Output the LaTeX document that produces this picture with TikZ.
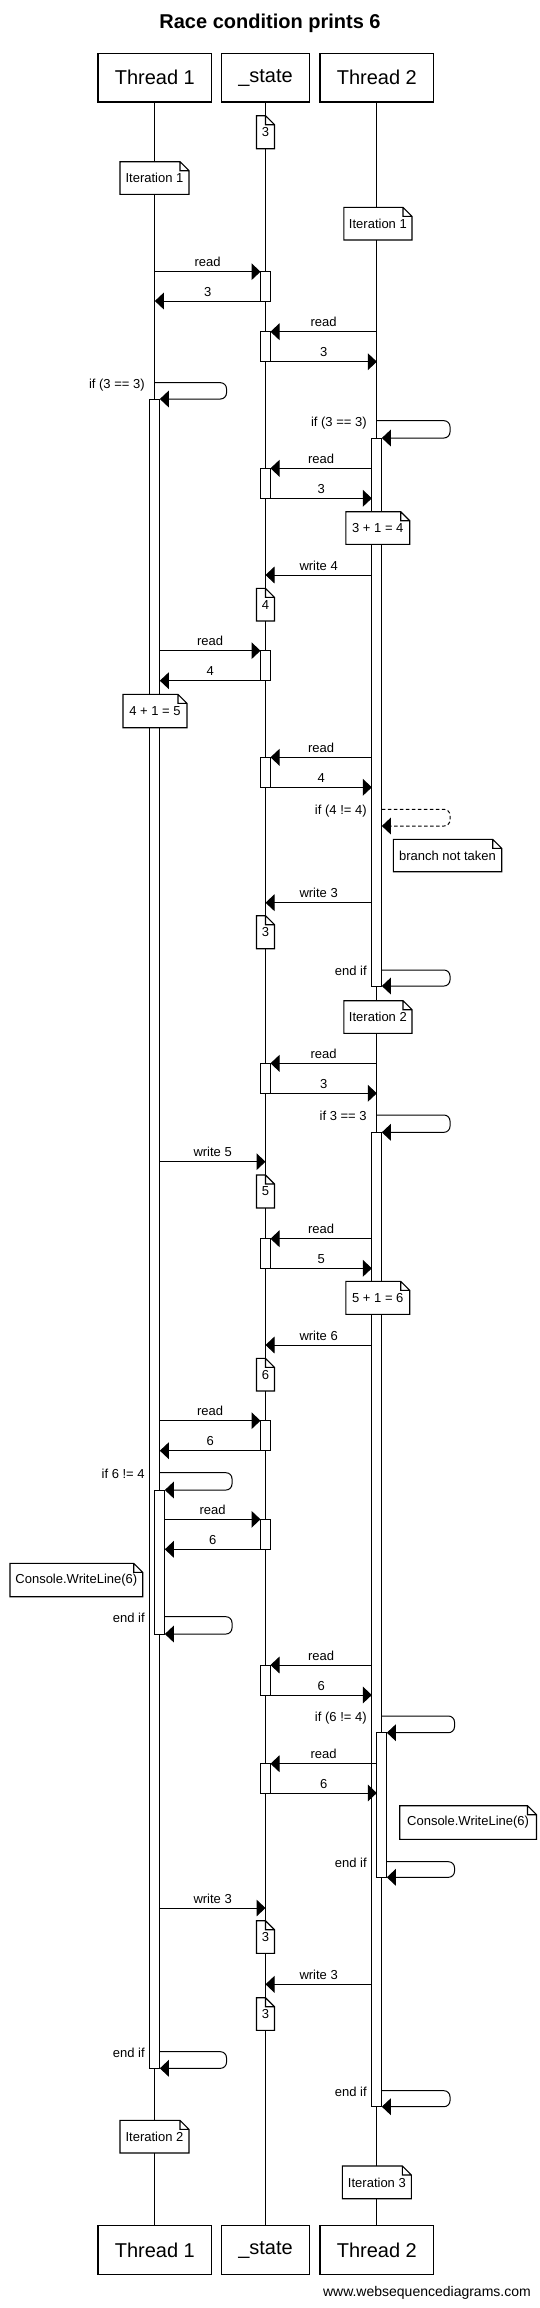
\documentclass[tikz,border=0pt]{standalone}
\usepackage{fontspec}
\setmainfont{Liberation Sans}
\usetikzlibrary{arrows.meta}
\newcommand\actbox[4]{\node[actstyle, minimum height={(#4)-(#3)}] (#1) at (#2,{((#3)+(#4))/2}) {};}
\newcommand\notebox[6]{%
  \node[notebody, minimum width={(#4)-(#2)}, minimum height={(#5)-(#3)}] (#1) at ({((#2)+(#4))/2},{((#3)+(#5))/2}) {#6};
  \draw[noteline] (#1.north west) -- ([xshift=-9pt]#1.north east) -- ([yshift=-9pt]#1.north east) -- (#1.south east) -- (#1.south west) -- cycle
    ([xshift=-9pt]#1.north east) |- ([yshift=-9pt]#1.north east);}
\begin{document}
\begin{tikzpicture}[x=1pt,y=-1pt,
  hdr/.style={draw, line width=1.1pt, minimum height=48.7pt, inner sep=0pt, font=\fontsize{20}{24}\selectfont},
  lifeline/.style={line width=1pt},
  actstyle/.style={draw, fill=white, line width=1pt, minimum width=10pt, inner sep=0pt, outer sep=0pt},
  msgarrow/.style={line width=1pt, -{Triangle[length=9pt,width=16.7pt]}},
  lbl/.style={font=\fontsize{13}{15}\selectfont, inner sep=0pt, text depth=0pt, above=4.5pt},
  slbl/.style={font=\fontsize{13}{15}\selectfont, inner sep=0pt, anchor=base east},
  notebody/.style={fill=white, inner sep=0pt, outer sep=0pt, font=\fontsize{13}{15}\selectfont},
  noteline/.style={line width=1.1pt, line join=miter},
  loopstyle/.style={msgarrow, rounded corners=6pt},
]
\useasboundingbox (0,0) rectangle (540,2308);

% title
\node[font=\bfseries\fontsize{20}{24}\selectfont] (title) at (270,23) {Race condition prints 6};

% headers
\node[hdr, minimum width=113.7pt] (h1) at (154.85,77.65) {Thread 1};
\node[hdr, minimum width=88.3pt] (hs) at (265.5,77.65) {\_state};
\node[hdr, minimum width=113.7pt] (h2) at (376.85,77.65) {Thread 2};
\node[hdr, minimum width=113.7pt] (f1) at (154.85,2250) {Thread 1};
\node[hdr, minimum width=88.3pt] (fs) at (265.5,2250) {\_state};
\node[hdr, minimum width=113.7pt] (f2) at (376.85,2250) {Thread 2};

% lifelines
\draw[lifeline] (h1.south) -- (f1.north);
\draw[lifeline] (hs.south) -- (fs.north);
\draw[lifeline] (h2.south) -- (f2.north);

% activations
\actbox{A1}{154.85}{399}{2068.3}
\actbox{A1n}{159.85}{1490}{1634}
\actbox{B1}{376.85}{438}{986}
\actbox{B2}{376.85}{1132.3}{2106.7}
\actbox{B2n}{381.85}{1732.7}{1877.3}
\actbox{S1}{265.5}{271.7}{301}
\actbox{S2}{265.5}{331.7}{361.7}
\actbox{S3}{265.5}{468.3}{498.3}
\actbox{S4}{265.5}{650.7}{680.7}
\actbox{S5}{265.5}{757.3}{787.3}
\actbox{S6}{265.5}{1063.3}{1093.3}
\actbox{S7}{265.5}{1238.7}{1268.3}
\actbox{S8}{265.5}{1420.7}{1450.7}
\actbox{S9}{265.5}{1519.3}{1549.3}
\actbox{S10}{265.5}{1665}{1695}
\actbox{S11}{265.5}{1763.7}{1793}

% coordinates for loops and writes
\coordinate (L1) at (154.85,382.7);
\coordinate (L2) at (376.85,420.7);
\coordinate (L3) at (381.85,809.3);
\coordinate (L4) at (381.85,970);
\coordinate (L5) at (376.85,1115);
\coordinate (L6) at (159.85,1472.7);
\coordinate (L7) at (164.85,1616.7);
\coordinate (L8) at (381.85,1716);
\coordinate (L9) at (386.85,1861.7);
\coordinate (L10) at (159.85,2051.7);
\coordinate (L11) at (381.85,2090.7);
\coordinate (W1) at (0,575);
\coordinate (W2) at (0,902.7);
\coordinate (W3) at (0,1161.7);
\coordinate (W4) at (0,1345);
\coordinate (W5) at (0,1908);
\coordinate (W6) at (0,1984.3);

% messages
\draw[msgarrow] (h1 |- S1.north west) -- node[lbl]{read} (S1.north west);
\draw[msgarrow] (S1.south west) -- node[lbl]{3} (h1 |- S1.south west);
\draw[msgarrow] (h2 |- S2.north east) -- node[lbl]{read} (S2.north east);
\draw[msgarrow] (S2.south east) -- node[lbl]{3} (h2 |- S2.south east);

\draw[loopstyle] (L1) -- ++(71.65,0) |- (A1.north east);
\node[slbl] (c1) at (144.85,388) {if (3 == 3)};
\draw[loopstyle] (L2) -- ++(73.15,0) |- (B1.north east);
\node[slbl] (c2) at (366.85,426) {if (3 == 3)};

\draw[msgarrow] (B1.west |- S3.north east) -- node[lbl]{read} (S3.north east);
\draw[msgarrow] (S3.south east) -- node[lbl]{3} (B1.west |- S3.south east);
\draw[msgarrow] (B1.west |- W1) -- node[lbl]{write 4} (hs |- W1);
\draw[msgarrow] (A1.east |- S4.north west) -- node[lbl]{read} (S4.north west);
\draw[msgarrow] (S4.south west) -- node[lbl]{4} (A1.east |- S4.south west);
\draw[msgarrow] (B1.west |- S5.north east) -- node[lbl]{read} (S5.north east);
\draw[msgarrow] (S5.south east) -- node[lbl]{4} (B1.west |- S5.south east);

\draw[loopstyle, dash pattern=on 3.5pt off 2.5pt] (L3) -- ++(68.15,0) -- ++(0,16.7) -- ++(-68.15,0);
\node[slbl] (c3) at (366.85,814.8) {if (4 != 4)};

\draw[msgarrow] (B1.west |- W2) -- node[lbl]{write 3} (hs |- W2);
\draw[loopstyle] (L4) -- ++(68.15,0) |- (B1.south east);
\node[slbl] (c4) at (366.85,975.5) {end if};

\draw[msgarrow] (h2 |- S6.north east) -- node[lbl]{read} (S6.north east);
\draw[msgarrow] (S6.south east) -- node[lbl]{3} (h2 |- S6.south east);
\draw[loopstyle] (L5) -- ++(73.15,0) |- (B2.north east);
\node[slbl] (c5) at (366.85,1120.5) {if 3 == 3};

\draw[msgarrow] (A1.east |- W3) -- node[lbl]{write 5} (hs |- W3);
\draw[msgarrow] (B2.west |- S7.north east) -- node[lbl]{read} (S7.north east);
\draw[msgarrow] (S7.south east) -- node[lbl]{5} (B2.west |- S7.south east);
\draw[msgarrow] (B2.west |- W4) -- node[lbl]{write 6} (hs |- W4);
\draw[msgarrow] (A1.east |- S8.north west) -- node[lbl]{read} (S8.north west);
\draw[msgarrow] (S8.south west) -- node[lbl]{6} (A1.east |- S8.south west);

\draw[loopstyle] (L6) -- ++(72.15,0) |- (A1n.north east);
\node[slbl] (c6) at (144.85,1478.2) {if 6 != 4};
\draw[msgarrow] (A1n.east |- S9.north west) -- node[lbl]{read} (S9.north west);
\draw[msgarrow] (S9.south west) -- node[lbl]{6} (A1n.east |- S9.south west);
\draw[loopstyle] (L7) -- ++(67.15,0) |- (A1n.south east);
\node[slbl] (c7) at (144.85,1622.2) {end if};

\draw[msgarrow] (B2.west |- S10.north east) -- node[lbl]{read} (S10.north east);
\draw[msgarrow] (S10.south east) -- node[lbl]{6} (B2.west |- S10.south east);
\draw[loopstyle] (L8) -- ++(72.65,0) |- (B2n.north east);
\node[slbl] (c8) at (366.85,1721.5) {if (6 != 4)};
\draw[msgarrow] (B2n.west |- S11.north east) -- node[lbl]{read} (S11.north east);
\draw[msgarrow] (S11.south east) -- node[lbl]{6} (B2n.west |- S11.south east);
\draw[loopstyle] (L9) -- ++(67.65,0) |- (B2n.south east);
\node[slbl] (c9) at (366.85,1867.2) {end if};

\draw[msgarrow] (A1.east |- W5) -- node[lbl]{write 3} (hs |- W5);
\draw[msgarrow] (B2.west |- W6) -- node[lbl]{write 3} (hs |- W6);
\draw[loopstyle] (L10) -- ++(66.65,0) |- (A1.south east);
\node[slbl] (c10) at (144.85,2057.2) {end if};
\draw[loopstyle] (L11) -- ++(68.15,0) |- (B2.south east);
\node[slbl] (c11) at (366.85,2096.2) {end if};

% notes
\notebox{n1}{256.5}{115.7}{274.5}{148.7}{3}
\notebox{n2}{120}{161.7}{189}{194.3}{Iteration 1}
\notebox{n3}{343.8}{207.3}{412}{240}{Iteration 1}
\notebox{n4}{345.9}{511.7}{409.7}{544.3}{3 + 1 = 4}
\notebox{n5}{256.5}{588.3}{274.5}{621}{4}
\notebox{n6}{123}{694.3}{187}{727.7}{4 + 1 = 5}
\notebox{n7}{393.3}{839.3}{501.7}{871.7}{branch not taken}
\notebox{n8}{256.5}{915.7}{274.5}{948.7}{3}
\notebox{n9}{343.8}{1000.7}{412}{1033.3}{Iteration 2}
\notebox{n10}{256.5}{1175}{274.5}{1208}{5}
\notebox{n11}{345.9}{1281.3}{409.7}{1314.3}{5 + 1 = 6}
\notebox{n12}{256.5}{1358.3}{274.5}{1391}{6}
\notebox{n13}{10}{1563.3}{142.7}{1596.7}{Console.WriteLine(6)}
\notebox{n14}{399.7}{1805.7}{536.5}{1839.3}{Console.WriteLine(6)}
\notebox{n15}{256.5}{1920.7}{274.5}{1953.3}{3}
\notebox{n16}{256.5}{1997.7}{274.5}{2030.3}{3}
\notebox{n17}{120}{2120.3}{189}{2153}{Iteration 2}
\notebox{n18}{342.4}{2166}{411.4}{2198.7}{Iteration 3}

% footer
\node[font=\fontsize{14}{16}\selectfont, anchor=east, inner sep=0pt] (www) at (531,2293) {www.websequencediagrams.com};
\end{tikzpicture}
\end{document}
